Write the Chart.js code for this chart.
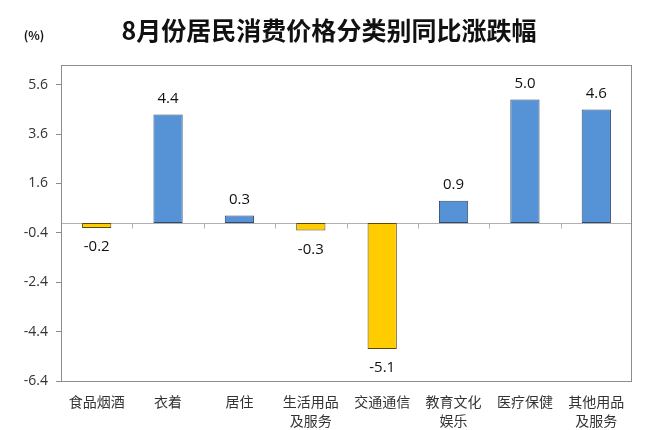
<!DOCTYPE html>
<html lang="zh">
<head>
<meta charset="UTF-8" />
<title>8月份居民消费价格分类别同比涨跌幅</title>
<script src="https://cdn.jsdelivr.net/npm/chart.js@4"></script>
<style>
  html, body { margin: 0; padding: 0; background: #fff; }
  #wrap { width: 660px; height: 430px; }
</style>
</head>
<body>
<div id="wrap"><canvas id="myChart" width="660" height="430"></canvas></div>
<script>
// data
const categories = ['食品烟酒', '衣着', '居住', ['生活用品', '及服务'], '交通通信', ['教育文化', '娱乐'], '医疗保健', ['其他用品', '及服务']];
const values = [-0.2, 4.4, 0.3, -0.3, -5.1, 0.9, 5.0, 4.6];
const yTicks = [-6.4, -4.4, -2.4, -0.4, 1.6, 3.6, 5.6];
const titleText = '8月份居民消费价格分类别同比涨跌幅';
const unitText = '(%)';

const cjk = '"Noto Sans CJK SC", "Noto Sans", sans-serif';
const axisGray = '#8c8c8c';

// title, unit, frame, zero axis and value labels
const decor = {
  id: 'decor',
  beforeDatasetsDraw(chart) {
    const ctx = chart.ctx, a = chart.chartArea;
    const x = chart.scales.x, y = chart.scales.y;
    const y0 = Math.round(y.getPixelForValue(0)) + 0.5;
    ctx.save();
    ctx.strokeStyle = '#b0b0b0';
    ctx.lineWidth = 1;
    ctx.beginPath();
    ctx.moveTo(a.left, y0);
    ctx.lineTo(a.right, y0);
    // tick marks between categories
    for (let i = 1; i < categories.length; i++) {
      const px = Math.round((x.getPixelForValue(i - 1) + x.getPixelForValue(i)) / 2) + 0.5;
      ctx.moveTo(px, y0);
      ctx.lineTo(px, y0 + 5);
    }
    ctx.stroke();
    ctx.restore();
  },
  afterDraw(chart) {
    const ctx = chart.ctx, a = chart.chartArea;
    ctx.save();
    ctx.strokeStyle = axisGray;
    ctx.lineWidth = 1;
    ctx.strokeRect(Math.round(a.left) + 0.5, Math.round(a.top) + 0.5,
      Math.round(a.right - a.left) - 1, Math.round(a.bottom - a.top));

    ctx.fillStyle = '#111';
    ctx.textAlign = 'center';
    ctx.textBaseline = 'middle';
    ctx.font = 'bold 25px ' + cjk;
    ctx.fillText(titleText, 329, 30);
    ctx.font = 'bold 12px ' + cjk;
    ctx.fillText(unitText, 34, 35);

    const meta = chart.getDatasetMeta(0);
    ctx.font = '15px "Open Sans", "Noto Sans", sans-serif';
    ctx.fillStyle = '#111';
    meta.data.forEach((bar, i) => {
      const v = values[i];
      const yy = v >= 0 ? bar.y - 16 : bar.y + 19;
      ctx.fillText(v.toFixed(1), bar.x, yy);
    });
    ctx.restore();
  }
};

new Chart(document.getElementById('myChart'), {
  type: 'bar',
  data: {
    labels: categories,
    datasets: [{
      data: values,
      backgroundColor: values.map(v => v >= 0 ? '#5592d6' : '#ffcc00'),
      borderColor: values.map(v => v >= 0 ? '#2f4a6b' : '#5a4a10'),
      borderWidth: 1,
      borderSkipped: false,
      barPercentage: 0.41,
      categoryPercentage: 1
    }]
  },
  options: {
    responsive: false,
    animation: false,
    layout: { padding: { top: 65, right: 28, left: 0, bottom: 0 } },
    plugins: {
      legend: { display: false },
      title: { display: false },
      tooltip: { enabled: false }
    },
    scales: {
      x: {
        grid: { display: false },
        border: { display: false },
        ticks: {
          color: '#333',
          font: { family: cjk, size: 14, lineHeight: 1.3 },
          padding: 4,
          maxRotation: 0,
          autoSkip: false
        },
        afterFit(scale) { scale.height = 49; }
      },
      y: {
        min: -6.4,
        max: 6.4,
        afterBuildTicks(scale) { scale.ticks = yTicks.map(v => ({ value: v })); },
        afterFit(scale) { scale.width = 61; },
        grid: { drawOnChartArea: false, drawTicks: true, tickLength: 5, color: axisGray },
        border: { display: true, color: axisGray },
        ticks: {
          color: '#333',
          font: { family: '"Open Sans", "Noto Sans", sans-serif', size: 14 },
          padding: 8,
          callback: v => Number(v).toFixed(1)
        }
      }
    }
  },
  plugins: [decor]
});
</script>
</body>
</html>
